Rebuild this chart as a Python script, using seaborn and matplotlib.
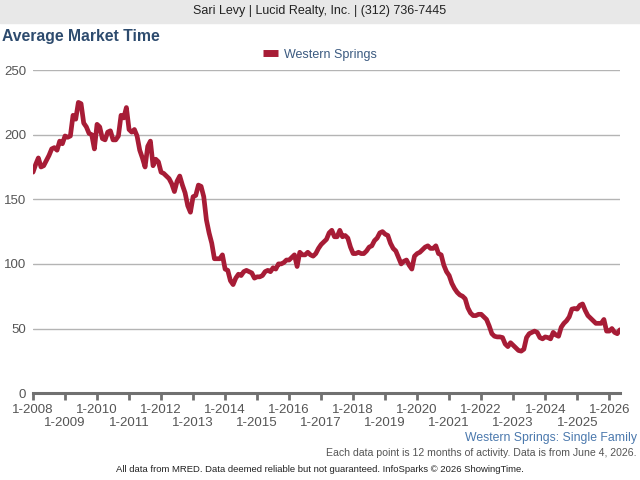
"""
Average market time for Western Springs, single family homes.
Monthly values, each one a rolling 12 months of activity.
"""

import pandas as pd
import matplotlib
matplotlib.use("Agg")
import matplotlib.pyplot as plt
import seaborn as sns

# Values, one per month starting 1-2008
y2008 = [171, 177, 182, 175, 176, 180, 184, 189, 190, 188, 195, 193]
y2009 = [199, 198, 199, 215, 212, 225, 224, 209, 206, 201, 200, 189]
y2010 = [208, 206, 197, 196, 202, 203, 196, 196, 199, 215, 213, 221]
y2011 = [204, 202, 204, 199, 188, 182, 175, 191, 195, 176, 181, 179]
y2012 = [171, 170, 168, 166, 162, 156, 164, 168, 161, 155, 145, 140]
y2013 = [152, 153, 161, 160, 152, 134, 124, 116, 104, 104, 104, 107]
y2014 = [96, 95, 87, 84, 89, 92, 91, 94, 95, 94, 93, 89]
y2015 = [90, 90, 91, 94, 95, 94, 97, 96, 100, 100, 101, 103]
y2016 = [103, 105, 107, 98, 109, 107, 107, 109, 107, 106, 108, 112]
y2017 = [115, 117, 119, 124, 126, 121, 121, 126, 121, 122, 120, 113]
y2018 = [108, 108, 109, 108, 108, 110, 113, 114, 118, 120, 124, 125]
y2019 = [123, 122, 116, 112, 110, 105, 100, 102, 103, 99, 96, 106]
y2020 = [108, 109, 111, 113, 114, 112, 112, 114, 108, 107, 99, 94]
y2021 = [91, 85, 81, 78, 76, 75, 73, 66, 62, 60, 60, 61]
y2022 = [61, 59, 57, 52, 46, 44, 43.5, 43.5, 43, 38, 36, 39]
y2023 = [37, 35, 33, 32.5, 34, 43, 46, 47, 48, 47, 43, 42]
y2024 = [43.5, 43, 42, 47, 45, 44, 51, 54, 56, 59, 65, 65.5]
y2025 = [65, 68, 69, 64, 60, 58, 56, 54, 54, 54, 57, 48]
y2026 = [48, 50, 47, 46, 49]

years = list(range(2008, 2027))
even_years = years[0::2]
odd_years = years[1::2]

values = (y2008 + y2009 + y2010 + y2011 + y2012 + y2013 + y2014 + y2015 + y2016
          + y2017 + y2018 + y2019 + y2020 + y2021 + y2022 + y2023 + y2024 + y2025 + y2026)
df = pd.DataFrame({"month": range(len(values)), "days": values})

sns.set_style("white")
plt.rcParams["font.family"] = ["Liberation Sans", "DejaVu Sans"]

fig = plt.figure(figsize=(6.4, 4.8), dpi=100)
ax = fig.add_axes([0.0516, 0.181, 0.917, 0.673])

line_color = "#a71c36"
sns.lineplot(x="month", y="days", data=df, ax=ax, color=line_color, linewidth=3.4,
             solid_joinstyle="round", solid_capstyle="round")

ax.set_xlim(0, len(values) - 1)
ax.set_ylim(0, 250)
ax.set_yticks([0, 50, 100, 150, 200, 250])
ax.yaxis.grid(True, color="#b4b4b4", linewidth=1)
ax.set_axisbelow(True)

# even years on the first row (major ticks), odd years on the second row (minor ticks)
ax.set_xticks([12 * (y - 2008) for y in even_years])
ax.set_xticklabels(["1-%d" % y for y in even_years])
ax.set_xticks([12 * (y - 2008) for y in odd_years], minor=True)
ax.set_xticklabels(["1-%d" % y for y in odd_years], minor=True)
ax.set_xlabel("")
ax.set_ylabel("")

for side in ["top", "right", "left"]:
    ax.spines[side].set_visible(False)
ax.spines["bottom"].set_color("#707070")
ax.spines["bottom"].set_linewidth(2.2)
ax.tick_params(axis="x", which="both", length=5, width=2, color="#707070", labelsize=9.5,
               labelcolor="#555555", bottom=True)
ax.tick_params(axis="x", which="major", pad=3)
ax.tick_params(axis="x", which="minor", pad=12.5)
ax.tick_params(axis="y", length=0, labelsize=9.5, labelcolor="#555555", pad=5)

# Header band
fig.patches.append(plt.Rectangle((0, 0.953), 1, 0.047, transform=fig.transFigure,
                                 color="#e8e8e8", zorder=0))
fig.text(0.5, 0.977, "Sari Levy | Lucid Realty, Inc. | (312) 736-7445",
         ha="center", va="center", fontsize=9, color="#222222")
fig.text(0.003, 0.924, "Average Market Time", ha="left", va="center",
         fontsize=11.3, fontweight="bold", color="#2d4b6e")

# Legend
handle = plt.Line2D([], [], color=line_color, linewidth=5, solid_capstyle="butt")
leg = fig.legend([handle], ["Western Springs"], loc="center", bbox_to_anchor=(0.5, 0.886),
                 frameon=False, fontsize=9, handlelength=1.2, handletextpad=0.5)
for t in leg.get_texts():
    t.set_color("#3b5a80")

# Footer text
fig.text(0.995, 0.088, "Western Springs: Single Family", ha="right", va="center",
         fontsize=8.8, color="#4a78ad")
fig.text(0.995, 0.056, "Each data point is 12 months of activity. Data is from June 4, 2026.",
         ha="right", va="center", fontsize=7.6, color="#555555")
fig.text(0.5, 0.021, "All data from MRED. Data deemed reliable but not guaranteed. InfoSparks \u00a9 2026 ShowingTime.",
         ha="center", va="center", fontsize=6.8, color="#222222")

plt.savefig("out.png", dpi=100)
